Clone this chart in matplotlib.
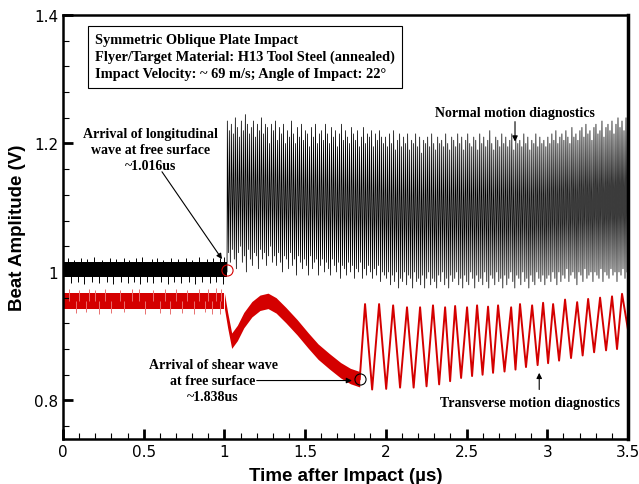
import numpy as np
import matplotlib.pyplot as plt
from matplotlib.ticker import MultipleLocator, FormatStrFormatter

# normal (black) channel: quiet band before arrival, then beat oscillation
black_pre_t = [0.0, 1.016]
black_pre_lo = [0.992, 0.992]
black_pre_hi = [1.016, 1.016]
black_up_t = [0.03, 0.07, 0.11, 0.15, 0.19, 0.24, 0.29, 0.33, 0.38, 0.41, 0.45, 0.49,
              0.55, 0.58, 0.62, 0.67, 0.71, 0.76, 0.80, 0.84, 0.89, 0.93, 0.97, 1.0]
black_up_v = [1.021, 1.019, 1.022, 1.020, 1.023, 1.019, 1.021, 1.020, 1.022, 1.019, 1.021, 1.023,
              1.020, 1.022, 1.019, 1.021, 1.020, 1.022, 1.019, 1.023, 1.020, 1.021, 1.022, 1.024]
black_dn_t = [0.05, 0.09, 0.13, 0.18, 0.22, 0.27, 0.31, 0.36, 0.40, 0.44, 0.48, 0.52,
              0.56, 0.61, 0.65, 0.69, 0.73, 0.78, 0.82, 0.86, 0.91, 0.95, 0.99]
black_dn_v = [0.983, 0.985, 0.982, 0.984, 0.983, 0.985, 0.982, 0.984, 0.983, 0.985, 0.982, 0.984,
              0.983, 0.985, 0.982, 0.984, 0.983, 0.985, 0.982, 0.984, 0.983, 0.985, 0.982]

black_peaks = [
    1.235, 1.22, 1.23, 1.215, 1.24, 1.225, 1.21, 1.235, 1.22, 1.245, 1.23, 1.215, 1.225, 1.235,
    1.21, 1.23, 1.22, 1.24, 1.215, 1.23, 1.225, 1.2, 1.23,
    1.22, 1.235, 1.205, 1.225, 1.215, 1.23, 1.2, 1.22, 1.21, 1.235, 1.215, 1.2, 1.225, 1.21,
    1.23, 1.205, 1.22, 1.215, 1.195, 1.225, 1.21, 1.23, 1.2, 1.215, 1.22, 1.205, 1.23, 1.215,
    1.2, 1.225, 1.21, 1.22, 1.195, 1.215, 1.23, 1.205, 1.22, 1.21, 1.2, 1.225, 1.215, 1.205,
    1.22, 1.195, 1.21, 1.225, 1.2, 1.215, 1.21, 1.22, 1.195, 1.215, 1.205, 1.22, 1.21, 1.2,
    1.21, 1.195, 1.215, 1.2, 1.22, 1.19, 1.205, 1.215, 1.195, 1.21, 1.2, 1.215, 1.19, 1.205,
    1.2, 1.215, 1.195, 1.21, 1.185, 1.205, 1.2, 1.21, 1.195, 1.215, 1.2, 1.19, 1.21, 1.2,
    1.205, 1.195, 1.215, 1.2, 1.19, 1.21, 1.205, 1.195, 1.215, 1.2, 1.21, 1.19, 1.205, 1.215,
    1.2, 1.195, 1.21, 1.205, 1.19, 1.215, 1.2, 1.21, 1.195, 1.205, 1.22, 1.2, 1.19, 1.21,
    1.205, 1.195, 1.215, 1.2, 1.21, 1.195, 1.205, 1.215, 1.19, 1.21, 1.2, 1.205, 1.195, 1.215,
    1.2, 1.21, 1.19, 1.205, 1.2, 1.215, 1.195, 1.21, 1.2, 1.205, 1.195,
    1.21, 1.2, 1.215, 1.205, 1.22, 1.2, 1.21, 1.215, 1.205, 1.22, 1.21, 1.2, 1.225, 1.21,
    1.215, 1.205, 1.22, 1.225, 1.21, 1.23, 1.215, 1.22, 1.205, 1.225, 1.23, 1.215, 1.22, 1.235,
    1.21, 1.225, 1.23, 1.22, 1.235, 1.215, 1.23, 1.24, 1.225, 1.235, 1.22, 1.24]
black_troughs = [
    1.03, 1.015, 1.035, 1.02, 1.005, 1.03, 1.04, 1.015, 1.025, 1.0, 1.035, 1.02, 1.01, 1.03,
    1.025, 1.005, 1.035, 1.02, 1.03, 1.01, 1.025, 1.04, 1.015,
    1.025, 1.01, 1.03, 1.015, 1.0, 1.025, 1.02, 1.005, 1.03, 1.01, 1.02, 0.995, 1.025, 1.015,
    1.005, 1.02, 1.01, 0.995, 1.025, 1.005, 1.015, 1.02, 0.995, 1.01, 1.02, 1.0, 1.015, 1.005,
    0.995, 1.02, 1.01, 1.0, 1.015, 0.99, 1.01, 1.005, 0.995, 1.015, 1.0, 1.01, 0.99, 1.005,
    1.0, 1.015, 0.99, 1.005, 0.995, 1.01, 1.0, 0.99, 1.005, 0.995, 1.01, 0.985, 1.0, 0.995,
    0.99, 1.0, 0.98, 0.995, 0.985, 1.0, 0.975, 0.99, 0.985, 1.0, 0.98, 0.995, 0.99, 0.975,
    1.0, 0.985, 0.99, 0.98, 0.995, 0.975, 0.99, 1.0, 0.98, 0.99, 0.985, 0.975, 0.995, 0.985,
    1.0, 0.98, 0.99, 0.975, 0.995, 0.985, 0.99, 1.0, 0.98, 0.99, 0.975, 0.995, 0.985, 0.98,
    1.0, 0.99, 0.975, 0.995, 0.985, 0.99, 0.98, 1.0, 0.985, 0.975, 0.995, 0.99, 0.98, 1.0,
    0.985, 0.99, 0.975, 0.995, 0.98, 0.99, 1.0, 0.985, 0.975, 0.995, 0.99, 0.98, 1.0, 0.985,
    0.99, 0.975, 0.995, 0.985, 0.98, 1.0, 0.99, 0.985, 0.995, 0.98, 0.99,
    0.995, 0.985, 1.0, 0.99, 0.98, 1.0, 0.985, 0.995, 0.99, 1.005, 0.985, 0.995, 1.0, 0.99,
    0.98, 1.0, 0.995, 0.985, 1.005, 0.99, 0.995, 1.0, 0.985, 1.0, 0.995, 0.99, 1.005, 0.985,
    1.0, 0.995, 0.99, 1.005, 0.995, 1.0, 0.985, 1.0, 0.995, 1.005, 0.99, 1.0]
black_start = 1.018
black_end = 3.5

# transverse (red) channel
red_pre_t = [0.0, 1.0]
red_pre_lo = [0.943, 0.943]
red_pre_hi = [0.967, 0.967]
red_up_t = [0.04, 0.1, 0.16, 0.2, 0.26, 0.35, 0.43, 0.47, 0.56, 0.63, 0.7, 0.77, 0.84, 0.9, 0.95, 0.98]
red_up_v = [0.973, 0.972, 0.974, 0.972, 0.973, 0.972, 0.974, 0.973, 0.972, 0.974, 0.973, 0.972,
            0.974, 0.973, 0.975, 0.974]
red_dn_t = [0.08, 0.14, 0.22, 0.3, 0.38, 0.51, 0.6, 0.66, 0.74, 0.81, 0.88, 0.92, 0.97]
red_dn_v = [0.936, 0.937, 0.935, 0.936, 0.937, 0.935, 0.936, 0.934, 0.936, 0.935, 0.937, 0.935, 0.934]

red_slow_t = [1.0, 1.02, 1.045, 1.08, 1.12, 1.17, 1.22, 1.27, 1.32, 1.38, 1.45, 1.52,
              1.58, 1.65, 1.72, 1.78, 1.838]
red_slow_v = [0.955, 0.925, 0.893, 0.905, 0.925, 0.942, 0.952, 0.955, 0.948, 0.933, 0.914, 0.893,
              0.876, 0.861, 0.847, 0.838, 0.833]
red_slow_half = 0.012

red_peak_t = [1.871, 1.958, 2.045, 2.131, 2.212, 2.292, 2.367, 2.429, 2.503, 2.565, 2.633, 2.695,
              2.776, 2.831, 2.906, 2.974, 3.036, 3.110, 3.185, 3.253, 3.327, 3.401, 3.463]
red_peak_v = [0.95, 0.95, 0.948, 0.945, 0.945, 0.948, 0.945, 0.947, 0.945, 0.948, 0.946, 0.948,
              0.945, 0.95, 0.948, 0.952, 0.95, 0.957, 0.953, 0.958, 0.96, 0.962, 0.966]
red_trough_t = [1.838, 1.915, 2.002, 2.088, 2.172, 2.252, 2.330, 2.398, 2.466, 2.534, 2.599, 2.664,
                2.735, 2.803, 2.868, 2.940, 3.005, 3.073, 3.147, 3.219, 3.290, 3.364, 3.432, 3.5]
red_trough_v = [0.833, 0.817, 0.818, 0.82, 0.82, 0.822, 0.825, 0.83, 0.835, 0.838, 0.84, 0.843,
                0.845, 0.848, 0.852, 0.855, 0.858, 0.862, 0.866, 0.87, 0.875, 0.878, 0.88, 0.91]

info_lines = ["Symmetric Oblique Plate Impact",
              "Flyer/Target Material: H13 Tool Steel (annealed)",
              "Impact Velocity: ~ 69 m/s; Angle of Impact: 22\u00b0"]

RED = '#d40000'
SPIKE_RED = '#e87070'
serif = dict(family='Liberation Serif', fontweight='bold', fontsize=10)

fig = plt.figure(figsize=(6.39, 4.85), dpi=100)
ax = fig.add_axes([0.0986, 0.0928, 0.8842, 0.8742])

# black channel
ax.fill_between(black_pre_t, black_pre_lo, black_pre_hi, color='black', lw=0)
ax.vlines(black_up_t, 1.0, black_up_v, color='black', lw=0.7)
ax.vlines(black_dn_t, black_dn_v, 1.0, color='black', lw=0.7)
n = min(len(black_peaks), len(black_troughs))
period = (black_end - black_start) / n
k = np.arange(n)
bt = np.ravel(np.column_stack([black_start + k * period, black_start + (k + 0.5) * period]))
bv = np.ravel(np.column_stack([black_peaks[:n], black_troughs[:n]]))
ax.plot(np.r_[black_pre_t[1], bt], np.r_[1.0, bv], color='black', lw=0.55)

# red channel
ax.fill_between(red_pre_t, red_pre_lo, red_pre_hi, color=RED, lw=0)
ax.vlines(red_up_t, 0.955, red_up_v, color=SPIKE_RED, lw=0.7)
ax.vlines(red_dn_t, red_dn_v, 0.955, color=SPIKE_RED, lw=0.7)
rs = np.array(red_slow_v)
ax.fill_between(red_slow_t, rs - red_slow_half, rs + red_slow_half, color=RED, lw=0)
rt = np.ravel(np.column_stack([red_trough_t[:-1], red_peak_t]))
rv = np.ravel(np.column_stack([red_trough_v[:-1], red_peak_v]))
ax.plot(np.r_[rt, red_trough_t[-1]], np.r_[rv, red_trough_v[-1]], color=RED, lw=1.4)

# arrival markers
ax.plot([1.016], [1.003], 'o', ms=8, mfc='none', mec=RED, mew=0.8)
ax.plot([1.838], [0.833], 'o', ms=8, mfc='none', mec='black', mew=0.8)

# annotations
arw = dict(arrowstyle='-|>', color='black', lw=0.8, mutation_scale=8, shrinkA=0, shrinkB=0)
ax.text(0.057, 0.958, "\n".join(info_lines), transform=ax.transAxes, va='top', ha='left',
        linespacing=1.4, fontsize=10.4, family='Liberation Serif', fontweight='bold',
        bbox=dict(boxstyle='square,pad=0.5', fc='white', ec='black', lw=0.8))
ax.text(2.80, 1.248, "Normal motion diagnostics", ha='center', va='center', **serif)
ax.annotate("", xy=(2.80, 1.203), xytext=(2.80, 1.234), arrowprops=arw)
ax.text(0.54, 1.19, "Arrival of longitudinal\nwave at free surface\n~1.016us", ha='center',
        va='center', linespacing=1.3, **serif)
ax.annotate("", xy=(0.985, 1.02), xytext=(0.613, 1.156), arrowprops=arw)
ax.text(0.93, 0.831, "Arrival of shear wave\nat free surface\n~1.838us", ha='center',
        va='center', linespacing=1.3, **serif)
ax.annotate("", xy=(1.79, 0.831), xytext=(1.2, 0.831), arrowprops=arw)
ax.text(2.894, 0.797, "Transverse motion diagnostics", ha='center', va='center', **serif)
ax.annotate("", xy=(2.95, 0.843), xytext=(2.95, 0.817), arrowprops=arw)

ax.set_xlim(0, 3.5)
ax.set_ylim(0.74, 1.4)
ax.xaxis.set_major_locator(MultipleLocator(0.5))
ax.xaxis.set_minor_locator(MultipleLocator(0.1))
ax.yaxis.set_major_locator(MultipleLocator(0.2))
ax.yaxis.set_minor_locator(MultipleLocator(0.04))
ax.xaxis.set_major_formatter(FormatStrFormatter('%g'))
ax.yaxis.set_major_formatter(FormatStrFormatter('%g'))
ax.tick_params(which='both', direction='in', top=False, right=False, labelsize=11)
ax.tick_params(which='major', length=7, width=2)
ax.tick_params(which='minor', length=4, width=0.8)
for s in ax.spines.values():
    s.set_linewidth(1.8)
ax.spines['right'].set_linewidth(2.5)

lab_font = dict(family='Liberation Sans', fontweight='bold', fontsize=13.5)
ax.set_xlabel("Time after Impact (\u00b5s)", labelpad=6, **lab_font)
ax.set_ylabel("Beat Amplitude (V)", labelpad=6, **lab_font)

fig.savefig('out.png', dpi=100)
